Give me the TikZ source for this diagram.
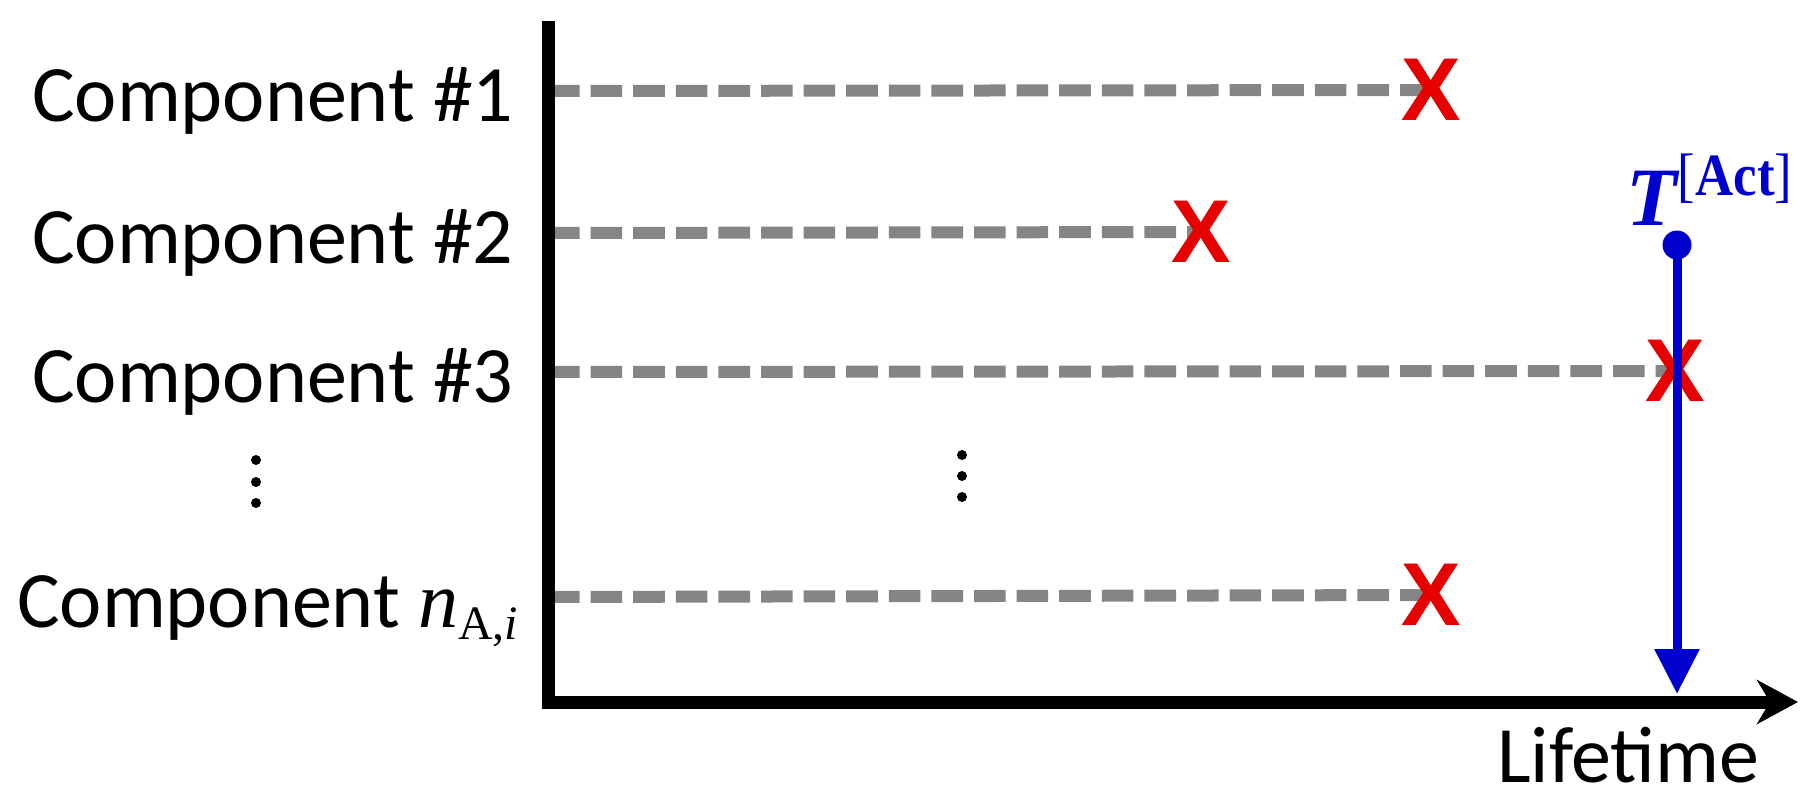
\documentclass[tikz,border=0pt]{standalone}
\usepackage{fontspec}
\setmainfont{Carlito}
\newfontfamily\xfont{Liberation Sans}
\newfontfamily\seriffont{Liberation Serif}
\usetikzlibrary{arrows.meta}
\definecolor{xred}{RGB}{230,0,0}
\definecolor{tblue}{RGB}{0,0,205}
\definecolor{dgray}{RGB}{133,133,133}
\begin{document}
\begin{tikzpicture}[x=1pt,y=-1pt,
  lbl/.style={anchor=base west,inner sep=0pt,font=\fontsize{80}{96}\selectfont},
  xmark/.style={inner sep=0pt,text=xred,font=\xfont\bfseries\fontsize{89}{100}\selectfont},
  life/.style={draw=dgray,line width=12pt,dash pattern=on 31.6pt off 11pt},
  axisline/.style={line width=13pt,line join=miter},
  vdot/.style={fill=black,circle,inner sep=0pt,minimum size=10pt},
  actline/.style={draw=tblue,line width=9pt}]
\useasboundingbox (0,0) rectangle (1811,808);
% axis coordinates
\coordinate (ytop) at (548,21);
\coordinate (o) at (548,702);
\coordinate (xend) at (1798,702);
% row start coordinates
\coordinate (s1) at (548,91);
\coordinate (s2) at (548,233);
\coordinate (s3) at (548,372);
\coordinate (sn) at (548,597);
% labels
\node[lbl] (l1) at (32,121) {Component \#1};
\node[lbl] (l2) at (32,263) {Component \#2};
\node[lbl] (l3) at (32,402) {Component \#3};
\node[lbl] (ln) at (17,627) {Component {\seriffont\itshape n}\raisebox{-12pt}{\fontsize{48}{55}\selectfont\seriffont A,\itshape i}};
% failure marks
\node[xmark] (x1) at (1431,90) {X};
\node[xmark] (x2) at (1201,232) {X};
\node[xmark] (x3) at (1675,371) {X};
\node[xmark] (xn) at (1431,595) {X};
% lifetimes
\draw[life] (s1) -- (x1.center);
\draw[life] (s2) -- (x2.center);
\draw[life] (s3) -- (x3.center);
\draw[life] (sn) -- (xn.center);
% redraw marks on top of the dashes
\node[xmark] at (x1) {X};
\node[xmark] at (x2) {X};
\node[xmark] at (x3) {X};
\node[xmark] at (xn) {X};
% vertical dots
\node[vdot] (d1) at (256,460) {};
\node[vdot] (d2) at (256,482) {};
\node[vdot] (d3) at (256,503) {};
\node[vdot] (m1) at (962,455) {};
\node[vdot] (m2) at (962,476) {};
\node[vdot] (m3) at (962,497) {};
% axes
\draw[axisline,-{Stealth[length=41pt,width=44pt,inset=13pt]}] (ytop) -- (o) -- (xend);
\node[lbl] (life) at (1497,782) {Lifetime};
% activation time
\node[fill=tblue,circle,inner sep=0pt,minimum size=29pt] (dot) at (1677,245) {};
\coordinate (btip) at (1677,694);
\draw[actline,-{Triangle[length=45pt,width=43pt]}] (dot.center) -- (btip);
\node[anchor=base west,inner sep=0pt,text=tblue] (tact) at (1626,225)
  {\seriffont\bfseries\itshape\fontsize{83}{90}\selectfont T\hspace{1pt}\raisebox{30pt}{\scalebox{0.88}[1]{\upshape\fontsize{60}{60}\selectfont{\mdseries[}Act{\mdseries]}}}};
\end{tikzpicture}
\end{document}
